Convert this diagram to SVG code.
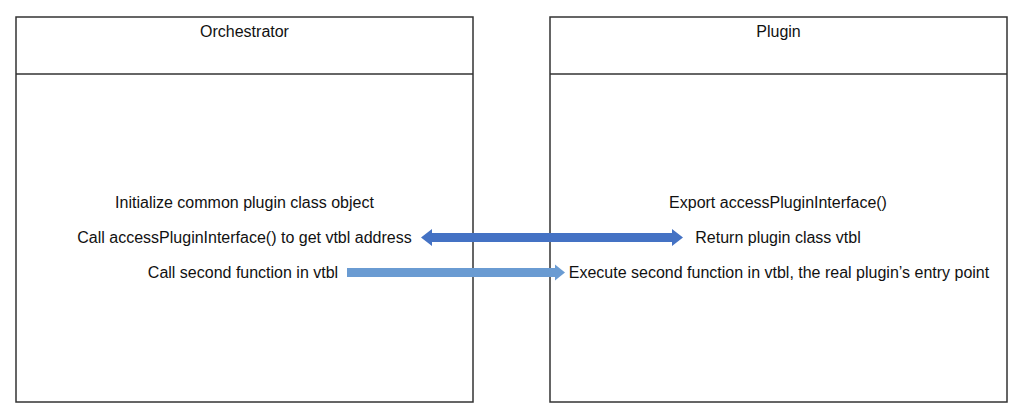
<svg xmlns="http://www.w3.org/2000/svg" width="1024" height="420" viewBox="0 0 1024 420">
<style>
.box{fill:#fff;stroke:#333;stroke-width:1.5}
.t{font-family:"Liberation Sans",Arial,sans-serif;font-size:16px;fill:#111;text-anchor:middle}
.a1{fill:#4472c4}
.a2{fill:#6a9bd2}
</style>
<rect width="1024" height="420" fill="#fff"/>
<g id="orchestrator">
<rect class="box" x="16" y="17" width="457" height="385"/>
<line x1="16" y1="74" x2="473" y2="74" stroke="#333" stroke-width="1.5"/>
<text class="t" x="244.5" y="37">Orchestrator</text>
<text class="t" x="244.5" y="208">Initialize common plugin class object</text>
<text class="t" x="244.5" y="243">Call accessPluginInterface() to get vtbl address</text>
<text class="t" x="243" y="278">Call second function in vtbl</text>
</g>
<g id="plugin">
<rect class="box" x="550" y="17" width="457" height="385"/>
<line x1="550" y1="74" x2="1007" y2="74" stroke="#333" stroke-width="1.5"/>
<text class="t" x="778.5" y="37">Plugin</text>
<text class="t" x="778" y="208">Export accessPluginInterface()</text>
<text class="t" x="778" y="243">Return plugin class vtbl</text>
<text class="t" x="779" y="278">Execute second function in vtbl, the real plugin’s entry point</text>
</g>
<g id="connectors">
<polygon class="a1" points="421,237.5 432,229 432,233 672,233 672,229 683,237.5 672,246 672,242 432,242 432,246"/>
<polygon class="a2" points="347,268 555,268 555,264.5 565,272.5 555,280.5 555,277 347,277"/>
</g>
</svg>
